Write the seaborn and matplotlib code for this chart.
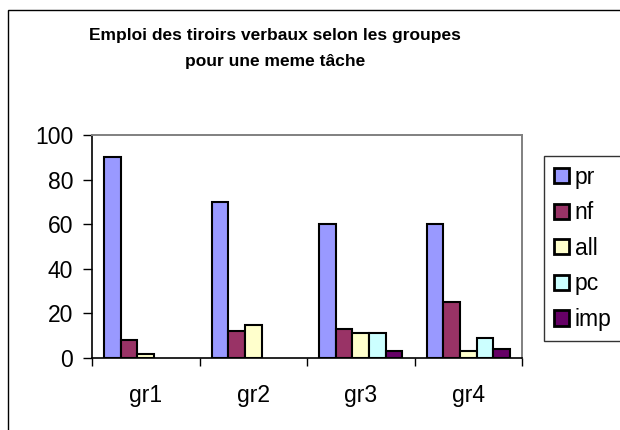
import numpy as np
import pandas as pd
import matplotlib
matplotlib.use("Agg")
import matplotlib.pyplot as plt
from matplotlib.patches import Rectangle
import seaborn as sns

groupes = ["gr1", "gr2", "gr3", "gr4"]
tiroirs = ["pr", "nf", "all", "pc", "imp"]
pr = [90, 70, 60, 60]
nf = [8, 12, 13, 25]
all_ = [2, 15, 11, 3]
pc = [np.nan, np.nan, 11, 9]
imp = [np.nan, np.nan, 3, 4]
couleurs = ["#9999FF", "#993366", "#FFFFCC", "#CCFFFF", "#660066"]
titre = "Emploi des tiroirs verbaux selon les groupes\npour une meme tâche"
yticks = [0, 20, 40, 60, 80, 100]

series = {"pr": pr, "nf": nf, "all": all_, "pc": pc, "imp": imp}
rows = []
for t in tiroirs:
    for g, v in zip(groupes, series[t]):
        rows.append({"groupe": g, "tiroir": t, "valeur": v})
df = pd.DataFrame(rows)

sns.set_theme(style="white")
plt.rcParams["font.family"] = ["Liberation Sans", "DejaVu Sans"]
plt.rcParams["text.color"] = "black"
plt.rcParams["xtick.color"] = "black"
plt.rcParams["ytick.color"] = "black"

fig = plt.figure(figsize=(6.2, 4.3), dpi=100)
ax = fig.add_axes([92/620, 1-358/430, (522-92)/620, (358-135)/430])

sns.barplot(data=df, x="groupe", y="valeur", hue="tiroir", order=groupes,
            hue_order=tiroirs, palette=couleurs, width=0.77, saturation=1,
            edgecolor="black", linewidth=1.5, errorbar=None, ax=ax)

ax.set_xlim(-0.5, 3.5)
ax.set_ylim(0, 100)
ax.set_yticks(yticks)
ax.set_xlabel("")
ax.set_ylabel("")
ax.tick_params(axis="y", which="major", direction="out", length=6.5, width=1,
               color="black", labelcolor="black", labelsize=16.5, pad=7, left=True)
ax.tick_params(axis="x", which="major", length=0, labelsize=16.5,
               labelcolor="black", pad=19)
ax.set_xticks([-0.5, 0.5, 1.5, 2.5, 3.5], minor=True)
ax.tick_params(axis="x", which="minor", direction="out", length=5.5, width=1,
               color="black", bottom=True)
for s in ["top", "right"]:
    ax.spines[s].set_color("#808080")
    ax.spines[s].set_linewidth(1.4)
for s in ["left", "bottom"]:
    ax.spines[s].set_color("black")
    ax.spines[s].set_linewidth(1.2)

leg = ax.legend(loc="upper left", bbox_to_anchor=(544/620, 1-156/430),
                bbox_transform=fig.transFigure, frameon=True, fancybox=False,
                fontsize=16.5, handlelength=0.65, handleheight=0.65,
                handletextpad=0.28, labelspacing=0.55, borderpad=0.42,
                borderaxespad=0)
leg.get_frame().set_edgecolor("black")
leg.get_frame().set_linewidth(1.0)
for text in leg.get_texts():
    text.set_color("black")
for h in leg.legend_handles:
    h.set_edgecolor("black")
    h.set_linewidth(2.0)

fig.text(275/620, 1-48.5/430, titre, ha="center", va="center", color="black",
         fontsize=12.5, fontweight="bold", linespacing=1.85)

fig.add_artist(Rectangle((8/620, -0.1), 1.2, 0.1 + 1-10/430,
                         transform=fig.transFigure, fill=False,
                         edgecolor="black", linewidth=1.0))

fig.savefig("out.png", dpi=100)
